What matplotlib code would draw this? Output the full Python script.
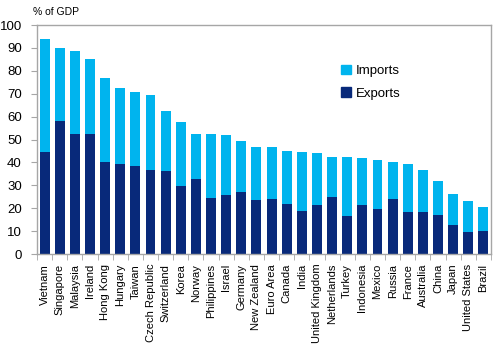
import numpy as np
import matplotlib.pyplot as plt
from matplotlib.patches import Patch

countries = ['Vietnam', 'Singapore', 'Malaysia', 'Ireland', 'Hong Kong', 'Hungary',
             'Taiwan', 'Czech Republic', 'Switzerland', 'Korea', 'Norway', 'Philippines',
             'Israel', 'Germany', 'New Zealand', 'Euro Area', 'Canada', 'India',
             'United Kingdom', 'Netherlands', 'Turkey', 'Indonesia', 'Mexico', 'Russia',
             'France', 'Australia', 'China', 'Japan', 'United States', 'Brazil']
exports = [44.7, 58.1, 52.3, 52.4, 40.0, 39.2, 38.6, 36.7, 36.1, 29.8, 32.8, 24.3,
           25.6, 27.2, 23.7, 23.9, 22.0, 18.9, 21.3, 25.0, 16.6, 21.5, 19.8, 24.0,
           18.2, 18.2, 17.2, 12.5, 9.8, 10.0]
imports = [49.0, 31.7, 36.5, 32.6, 36.9, 33.3, 32.1, 32.7, 26.5, 27.8, 19.6, 28.1,
           26.2, 22.3, 23.0, 22.8, 23.1, 25.6, 23.0, 17.4, 25.6, 20.6, 21.2, 16.2,
           21.1, 18.6, 14.7, 13.7, 13.3, 10.5]
yticks = list(range(0, 101, 10))

plt.rcParams['font.family'] = ['Liberation Sans', 'DejaVu Sans']

c_imp = '#00B4EE'
c_exp = '#08297A'
grey = '#A6A6A6'

fig = plt.figure(figsize=(5, 3.48), dpi=100)
ax = fig.add_axes([0.074, 0.270, 0.908, 0.658])

x = np.arange(len(countries))
ax.bar(x, exports, width=0.66, color=c_exp)
ax.bar(x, imports, width=0.66, bottom=exports, color=c_imp)

ax.set_xlim(-0.5, len(countries) - 0.5)
ax.set_ylim(0, 100)
ax.set_yticks(yticks)
ax.tick_params(axis='y', labelsize=9.5, length=4, color=grey, pad=7)

ax.set_xticks(x)
ax.set_xticklabels(countries, rotation=90, fontsize=8)
ax.set_xticks(np.arange(len(countries) + 1) - 0.5, minor=True)
ax.tick_params(axis='x', which='major', length=0, pad=7)
ax.tick_params(axis='x', which='minor', length=4, color=grey)

for s in ax.spines.values():
    s.set_color(grey)
    s.set_linewidth(1.0)

fig.text(0.066, 0.965, '% of GDP', fontsize=7.5, va='center', ha='left')

handles = [Patch(color=c_imp, label='Imports'), Patch(color=c_exp, label='Exports')]
ax.legend(handles=handles, loc='upper left', bbox_to_anchor=(0.672, 0.828),
          bbox_transform=fig.transFigure, frameon=False, fontsize=9.5,
          handlelength=0.7, handleheight=0.7, handletextpad=0.4, labelspacing=0.75,
          borderaxespad=0)

fig.savefig('out.png', dpi=100)
